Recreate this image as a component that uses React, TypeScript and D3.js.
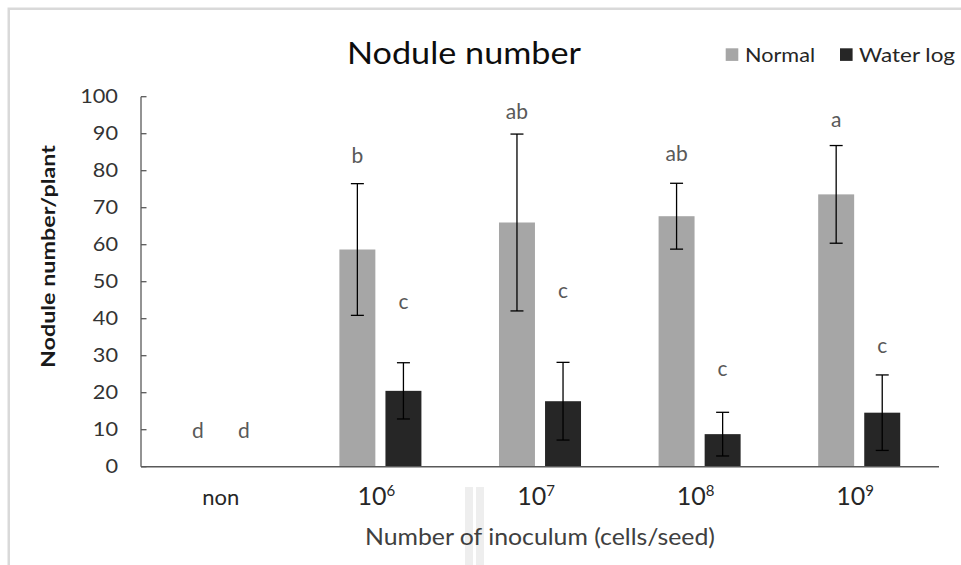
import React, { useEffect, useRef } from 'react';
import * as d3 from 'd3';

// data
const categories = ['non', '6', '7', '8', '9'];
const series = ['Normal', 'Water log'];
const normal = [0, 58.7, 66, 67.7, 73.6];
const normalErr = [0, 17.8, 23.9, 8.9, 13.2];
const waterLog = [0, 20.5, 17.7, 8.8, 14.6];
const waterErr = [0, 7.6, 10.5, 5.9, 10.2];
const normalLetters = ['d', 'b', 'ab', 'ab', 'a'];
const waterLetters = ['d', 'c', 'c', 'c', 'c'];
const normalLetterAt = [9.6, 83.9, 95.9, 84.5, 93.7];
const waterLetterAt = [9.6, 44.5, 47.5, 26.4, 32.7];
const yTicks = [0, 10, 20, 30, 40, 50, 60, 70, 80, 90, 100];

const colors = ['#a6a6a6', '#262626'];
const font = 'Lato, "Open Sans", sans-serif';

const App = () => {
  const ref = useRef<SVGSVGElement | null>(null);

  useEffect(() => {
    const svg = d3.select(ref.current);
    svg.selectAll('*').remove();

    const left = 141, right = 939, top = 96.7, bottom = 466.7;

    const x0 = d3.scaleBand<string>()
      .domain(categories)
      .range([left, right])
      .paddingInner(0.486)
      .paddingOuter(0.243);

    const x1 = d3.scaleBand<string>()
      .domain(series)
      .range([0, x0.bandwidth()])
      .paddingInner(0.219);

    const y = d3.scaleLinear().domain([0, 100]).range([bottom, top]);

    // outer frame (only top and left visible in the crop)
    svg.append('path')
      .attr('d', 'M8.75,565V8.75H961')
      .attr('fill', 'none')
      .attr('stroke', '#d9d9d9')
      .attr('stroke-width', 2.5);

    // faint artefact strips below the axis
    [465, 476].forEach(sx => {
      svg.append('rect')
        .attr('x', sx).attr('y', 487)
        .attr('width', 8).attr('height', 78)
        .attr('fill', '#eeeeee');
    });

    // title
    svg.append('text')
      .attr('x', 464).attr('y', 64)
      .attr('text-anchor', 'middle')
      .attr('textLength', 234)
      .attr('lengthAdjust', 'spacingAndGlyphs')
      .style('font-family', font)
      .style('font-size', '30px')
      .style('fill', '#0d0d0d')
      .text('Nodule number');

    // legend
    const legend = [
      { name: series[0], sx: 725.7, tx: 745, w: 70 },
      { name: series[1], sx: 840, tx: 859, w: 96 },
    ];
    legend.forEach((d, i) => {
      svg.append('rect')
        .attr('x', d.sx).attr('y', 48.3)
        .attr('width', 12.6).attr('height', 12.6)
        .attr('fill', colors[i]);
      svg.append('text')
        .attr('x', d.tx).attr('y', 61.5)
        .attr('textLength', d.w)
        .attr('lengthAdjust', 'spacingAndGlyphs')
        .style('font-family', font)
        .style('font-size', '19px')
        .style('fill', '#262626')
        .text(d.name);
    });

    // y axis
    const yAxis = svg.append('g');
    yAxis.append('line')
      .attr('x1', left).attr('x2', left)
      .attr('y1', top).attr('y2', bottom)
      .attr('stroke', '#595959').attr('stroke-width', 1.3);
    yTicks.forEach(t => {
      yAxis.append('line')
        .attr('x1', left).attr('x2', left + 5.5)
        .attr('y1', y(t)).attr('y2', y(t))
        .attr('stroke', '#595959').attr('stroke-width', 1.3);
      yAxis.append('text')
        .attr('x', 118).attr('y', y(t) + 6.5)
        .attr('text-anchor', 'end')
        .attr('textLength', String(t).length * 12.6)
        .attr('lengthAdjust', 'spacingAndGlyphs')
        .style('font-family', font)
        .style('font-size', '18.5px')
        .style('fill', '#333')
        .text(t);
    });

    // y label
    svg.append('text')
      .attr('transform', 'translate(55,256.5) rotate(-90)')
      .attr('text-anchor', 'middle')
      .attr('textLength', 223)
      .attr('lengthAdjust', 'spacingAndGlyphs')
      .style('font-family', font)
      .style('font-size', '19px')
      .style('font-weight', 'bold')
      .style('fill', '#1a1a1a')
      .text('Nodule number/plant');

    // bars
    const rows = [
      { vals: normal, errs: normalErr, letters: normalLetters, at: normalLetterAt },
      { vals: waterLog, errs: waterErr, letters: waterLetters, at: waterLetterAt },
    ];
    rows.forEach((s, si) => {
      const g = svg.append('g');
      categories.forEach((c, ci) => {
        const bx = (x0(c) as number) + (x1(series[si]) as number);
        const bw = x1.bandwidth();
        const v = s.vals[ci];
        if (v > 0) {
          g.append('rect')
            .attr('x', bx).attr('y', y(v))
            .attr('width', bw).attr('height', y(0) - y(v))
            .attr('fill', colors[si]);
          const cx = bx + bw / 2;
          const e = s.errs[ci];
          g.append('line')
            .attr('x1', cx).attr('x2', cx)
            .attr('y1', y(v + e)).attr('y2', y(v - e))
            .attr('stroke', '#000').attr('stroke-width', 1.3);
          [v + e, v - e].forEach(ev => {
            g.append('line')
              .attr('x1', cx - 6.5).attr('x2', cx + 6.5)
              .attr('y1', y(ev)).attr('y2', y(ev))
              .attr('stroke', '#000').attr('stroke-width', 1.3);
          });
        }
        g.append('text')
          .attr('x', bx + bw / 2).attr('y', y(s.at[ci]) + 7)
          .attr('text-anchor', 'middle')
          .style('font-family', font)
          .style('font-size', '21px')
          .style('fill', '#595959')
          .text(s.letters[ci]);
      });
    });

    // x axis line
    svg.append('line')
      .attr('x1', left).attr('x2', right)
      .attr('y1', bottom).attr('y2', bottom)
      .attr('stroke', '#595959').attr('stroke-width', 1.5);

    // x tick labels
    categories.forEach(c => {
      const cx = (x0(c) as number) + x0.bandwidth() / 2;
      const t = svg.append('text')
        .attr('x', c === 'non' ? cx : cx - 4).attr('y', 505)
        .attr('text-anchor', 'middle')
        .style('font-family', font)
        .style('fill', '#262626');
      if (c === 'non') {
        t.style('font-size', '22px').text('non');
      } else {
        t.style('font-size', '25px');
        t.append('tspan').text('10');
        t.append('tspan')
          .attr('dy', -9)
          .style('font-size', '15px')
          .text(c);
      }
    });

    // x axis title
    svg.append('text')
      .attr('x', 540).attr('y', 545)
      .attr('text-anchor', 'middle')
      .attr('textLength', 350)
      .attr('lengthAdjust', 'spacingAndGlyphs')
      .style('font-family', font)
      .style('font-size', '23px')
      .style('fill', '#404040')
      .text('Number of inoculum (cells/seed)');
  }, []);

  return (
    <svg
      ref={ref}
      width={961}
      height={565}
      style={{ position: 'absolute', left: 0, top: 0, background: '#fff' }}
    />
  );
};

export default App;
